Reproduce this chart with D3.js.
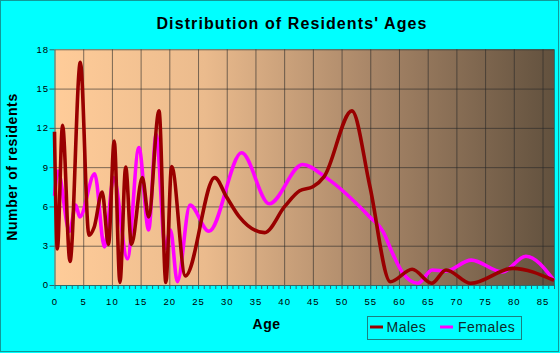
<!DOCTYPE html>
<html><head><meta charset="utf-8">
<script src="https://cdn.jsdelivr.net/npm/d3@7"></script>
<style>
html,body{margin:0;padding:0;background:#00ffff;}
svg{display:block;font-family:Arial,"Liberation Sans",sans-serif;}
</style></head>
<body>
<svg id="chart" width="560" height="353"></svg>
<script>
// ---- data ----
const title = "Distribution of Residents' Ages";
const xTitle = "Age";
const yTitle = "Number of residents";
const seriesNames = ["Males", "Females"];
const xTickLabels = d3.range(0, 86, 5);
const yTickLabels = [0, 3, 6, 9, 12, 15, 18];

const maleAges = [0, 0.5, 1.4, 2.7, 4.5, 6.0, 6.9, 8.3, 9.4, 10.4, 11.4, 12.4, 13.4, 15.3, 16.4, 18.2, 19.4, 20.4, 22.8, 27.9, 30.0, 32.2, 36.6, 40.1, 42.7, 45.0, 47.0, 51.8, 54.9, 58.5, 62.3, 65.7, 68.2, 72.5, 79.8, 87];
const maleVals = [11.7, 2.75, 12.2, 1.8, 17.0, 3.8, 4.4, 7.1, 3.1, 11.0, 0.2, 9.0, 3.1, 8.2, 5.2, 13.3, 0.2, 9.05, 0.7, 8.2, 6.7, 5.2, 4.0, 6.0, 7.2, 7.5, 8.3, 13.3, 7.6, 0.25, 1.2, 0.13, 1.15, 0.13, 1.27, 0.35];

const femaleAges = [0, 0.6, 2.6, 3.7, 4.4, 7.0, 8.7, 10.3, 12.7, 14.7, 16.4, 17.7, 19.3, 20.2, 21.4, 23.6, 26.9, 32.6, 37.4, 43.2, 47.3, 54.9, 57.2, 59.0, 60.7, 63.3, 65.8, 68.0, 72.6, 78.0, 82.1, 87];
const femaleVals = [6.8, 8.7, 4.1, 6.1, 5.2, 8.5, 2.9, 8.2, 2.0, 10.5, 4.2, 11.5, 2.8, 4.2, 0.25, 6.1, 4.1, 10.1, 6.2, 9.2, 8.2, 5.2, 4.1, 2.3, 0.9, 0.13, 1.15, 1.05, 1.9, 1.0, 2.2, 0.35];

// ---- layout ----
const svg = d3.select("#chart");
const W = 560, H = 353;
const x = d3.scaleLinear().domain([0, 87]).range([54.5, 554]);
const y = d3.scaleLinear().domain([0, 18]).range([285, 49.3]);

svg.append("rect").attr("x", 0.5).attr("y", 0.5).attr("width", W - 2).attr("height", H - 2)
  .attr("fill", "#00ffff").attr("stroke", "#119999").attr("stroke-width", 1);

const defs = svg.append("defs");
const grad = defs.append("linearGradient").attr("id", "bg").attr("x1", "0").attr("x2", "1").attr("y1", "0").attr("y2", "0");
[[0, "#ffcc99"], [0.3, "#ebbb8d"], [0.64, "#a78567"], [1, "#62513e"]].forEach(s =>
  grad.append("stop").attr("offset", s[0]).attr("stop-color", s[1]));

svg.append("rect").attr("x", x(0)).attr("y", y(18)).attr("width", x(87) - x(0)).attr("height", y(0) - y(18))
  .attr("fill", "url(#bg)");

// grid
const gridColor = "rgba(40,40,40,0.6)";
svg.append("g").attr("transform", `translate(0,${y(0)})`)
  .call(d3.axisBottom(x).tickValues(d3.range(5, 88, 5).concat([87])).tickSize(-(y(0) - y(18))).tickFormat(""))
  .call(g => g.select(".domain").remove())
  .call(g => g.selectAll("line").attr("stroke", gridColor));
svg.append("g").attr("transform", `translate(${x(0)},0)`)
  .call(d3.axisLeft(y).tickValues(yTickLabels.slice(1)).tickSize(-(x(87) - x(0))).tickFormat(""))
  .call(g => g.select(".domain").remove())
  .call(g => g.selectAll("line").attr("stroke", gridColor));

// axes
const axisColor = "#2d6b6b";
svg.append("g").attr("transform", `translate(0,${y(0)})`)
  .call(d3.axisBottom(x).tickValues(d3.range(0, 88, 1)).tickSize(4).tickSizeOuter(0).tickFormat(""))
  .call(g => g.selectAll("line,path").attr("stroke", axisColor));
svg.append("g").attr("transform", `translate(${x(0)},0)`)
  .call(d3.axisLeft(y).tickValues(yTickLabels).tickSize(5).tickSizeOuter(0).tickFormat(""))
  .call(g => g.selectAll("line,path").attr("stroke", axisColor));

svg.append("g").selectAll("text").data(xTickLabels).join("text")
  .attr("x", d => x(d) + 0.5).attr("y", 305).attr("text-anchor", "middle")
  .attr("font-size", "9.5px").attr("letter-spacing", "1px").attr("fill", "#000").text(d => d);
svg.append("g").selectAll("text").data(yTickLabels).join("text")
  .attr("x", 49).attr("y", d => y(d) + 3.4).attr("text-anchor", "end")
  .attr("font-size", "9.5px").attr("letter-spacing", "1px").attr("fill", "#000").text(d => d);

// titles
svg.append("text").attr("x", 292).attr("y", 28.5).attr("text-anchor", "middle")
  .attr("font-size", "16px").attr("font-weight", "bold").attr("letter-spacing", "1.1px").text(title);
svg.append("text").attr("x", 266.5).attr("y", 329).attr("text-anchor", "middle")
  .attr("font-size", "14px").attr("font-weight", "bold").attr("letter-spacing", "0.5px").text(xTitle);
svg.append("text").attr("transform", "translate(17,167) rotate(-90)").attr("text-anchor", "middle")
  .attr("font-size", "14px").attr("font-weight", "bold").attr("letter-spacing", "0.6px").text(yTitle);

// lines
const line = d3.line().x(d => x(d[0])).y(d => y(d[1])).curve(d3.curveMonotoneX);
const femalePts = femaleAges.map((a, i) => [a, femaleVals[i]]);
const malePts = maleAges.map((a, i) => [a, maleVals[i]]);
const colors = ["#990000", "#ff00ff"];
svg.append("path").attr("d", line(femalePts)).attr("fill", "none").attr("stroke", colors[1])
  .attr("stroke-width", 3.6).attr("stroke-linejoin", "round");
svg.append("path").attr("d", line(malePts)).attr("fill", "none").attr("stroke", colors[0])
  .attr("stroke-width", 3.6).attr("stroke-linejoin", "round");

// legend
const lg = svg.append("g");
lg.append("rect").attr("x", 367.5).attr("y", 316.5).attr("width", 154).attr("height", 23)
  .attr("fill", "none").attr("stroke", "#1a8080");
const legendX = [[370, 386.5], [440, 458]];
seriesNames.forEach((n, i) => {
  lg.append("line").attr("x1", legendX[i][0]).attr("x2", legendX[i][0] + 13).attr("y1", 327).attr("y2", 327)
    .attr("stroke", colors[i]).attr("stroke-width", 3);
  lg.append("text").attr("x", legendX[i][1]).attr("y", 332.3).attr("font-size", "14px")
    .attr("letter-spacing", "0.5px").attr("fill", "#0d2b2b").text(n);
});
</script>
</body></html>
